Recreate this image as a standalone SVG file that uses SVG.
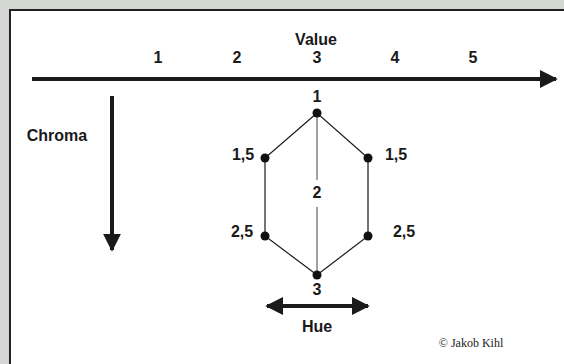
<svg xmlns="http://www.w3.org/2000/svg" width="564" height="364" viewBox="0 0 564 364">
<style>
.lbl{font-family:"Liberation Sans",Arial,sans-serif;font-weight:bold;font-size:16px;fill:#1a1a1a;text-anchor:middle}
.edge{stroke:#1a1a1a;stroke-width:1.2;fill:none}
.axis{stroke:#1a1a1a;stroke-width:4;fill:none}
.dot{fill:#111}
</style>
<defs>
<marker id="ah" viewBox="0 0 10 10" refX="9" refY="5" markerWidth="4.5" markerHeight="4.5" orient="auto-start-reverse" markerUnits="strokeWidth">
<path d="M0,0 L10,5 L0,10 z" fill="#1a1a1a"/>
</marker>
</defs>
<rect width="564" height="364" fill="#d4d6d4"/>
<rect x="10" y="10" width="560" height="360" fill="#fff" stroke="#222" stroke-width="2"/>
<text class="lbl" x="316" y="45">Value</text>
<text class="lbl" x="158" y="63">1</text>
<text class="lbl" x="237" y="63">2</text>
<text class="lbl" x="317" y="63">3</text>
<text class="lbl" x="395" y="63">4</text>
<text class="lbl" x="473" y="63">5</text>
<text class="lbl" x="57" y="141">Chroma</text>
<text class="lbl" x="317" y="295">3</text>
<text class="lbl" x="317" y="332">Hue</text>
<text x="471" y="347" style="font-family:'Liberation Serif','Times New Roman',serif;font-size:12px;fill:#222;text-anchor:middle">© Jakob Kihl</text>
<g id="connectors">
<line class="axis" x1="32" y1="79" x2="556" y2="79" marker-end="url(#ah)"/>
<line class="axis" x1="112" y1="96" x2="112" y2="250" marker-end="url(#ah)"/>
<line class="axis" x1="267" y1="306" x2="368" y2="306" marker-start="url(#ah)" marker-end="url(#ah)"/>
<path class="edge" d="M317,113 L265,158 L265,236 L317,275 L368,236 L368,158 Z"/>
<line x1="317" y1="113" x2="317" y2="180" stroke="#444" stroke-width="1"/>
<line x1="317" y1="207" x2="317" y2="275" stroke="#444" stroke-width="1"/>
</g>
<g id="n1"><circle class="dot" cx="317" cy="113" r="4.5"/><text class="lbl" x="317" y="102">1</text></g>
<g id="n15l"><circle class="dot" cx="265" cy="158" r="4.5"/><text class="lbl" x="243" y="160">1,5</text></g>
<g id="n15r"><circle class="dot" cx="368" cy="158" r="4.5"/><text class="lbl" x="396" y="160">1,5</text></g>
<g id="n2"><text class="lbl" x="317" y="198">2</text></g>
<g id="n25l"><circle class="dot" cx="265" cy="236" r="4.5"/><text class="lbl" x="242" y="237">2,5</text></g>
<g id="n25r"><circle class="dot" cx="368" cy="236" r="4.5"/><text class="lbl" x="404" y="237">2,5</text></g>
<g id="n3"><circle class="dot" cx="317" cy="275" r="4.5"/></g>
</svg>
